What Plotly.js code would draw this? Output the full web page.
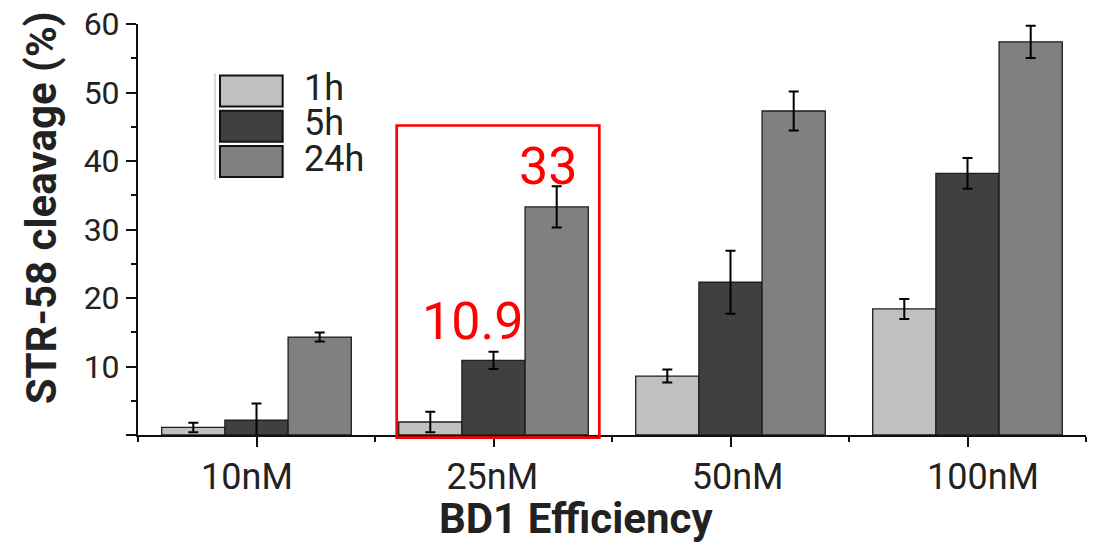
<!DOCTYPE html>
<html>
<head>
<meta charset="utf-8">
<script src="https://cdn.plot.ly/plotly-3.0.1.min.js"></script>
<style>
  html, body { margin: 0; padding: 0; background: #fff; }
  #chart { width: 1104px; height: 543px; }
</style>
</head>
<body>
<div id="chart"></div>
<script>
// ---- data ----
const categories = ['10nM', '25nM', '50nM', '100nM'];
const seriesNames = ['1h', '5h', '24h'];
const values1h = [1.1, 1.9, 8.6, 18.4];
const errors1h = [0.7, 1.5, 0.95, 1.45];
const values5h = [2.15, 10.9, 22.3, 38.2];
const errors5h = [2.45, 1.25, 4.6, 2.25];
const values24h = [14.3, 33.3, 47.3, 57.4];
const errors24h = [0.65, 3.0, 2.85, 2.35];
const seriesColors = ['#c0c0c0', '#404040', '#808080'];
const yTickVals = [0, 10, 20, 30, 40, 50, 60];
const yTickText = ['', '10', '20', '30', '40', '50', '60'];
const highlightLabels = ['10.9', '33'];

const xPos = categories.map((c, i) => i);
const allValues = [values1h, values5h, values24h];
const allErrors = [errors1h, errors5h, errors24h];

const FONT = 'Roboto, "Noto Sans", sans-serif';
const INK = '#222222';

const traces = seriesNames.map((name, k) => ({
  type: 'bar',
  name: name,
  x: xPos,
  y: allValues[k],
  marker: { color: seriesColors[k], line: { color: '#1e1e1e', width: 1.3 } },
  error_y: { type: 'data', array: allErrors[k], visible: true, color: '#000', thickness: 2, width: 5 },
  showlegend: false,
  hoverinfo: 'skip'
}));

// invisible trace to activate the label axis
traces.push({
  type: 'scatter', x: xPos, y: [0, 0, 0, 0], xaxis: 'x2', yaxis: 'y',
  mode: 'markers', marker: { opacity: 0 }, showlegend: false, hoverinfo: 'skip'
});

// ---- manual legend ----
const legendRows = [[0.7994, 0.8749], [0.7134, 0.7889], [0.6275, 0.7030]];
const legendTextY = [0.8442, 0.7585, 0.6725];
const shapes = [];
legendRows.forEach((r, k) => {
  shapes.push({
    type: 'rect', xref: 'paper', yref: 'paper',
    x0: 0.0865, x1: 0.1526, y0: r[0], y1: r[1],
    fillcolor: seriesColors[k], line: { color: '#111', width: 2 }
  });
});
shapes.push({
  type: 'line', xref: 'paper', yref: 'paper',
  x0: 0.0812, x1: 0.0812, y0: 0.6209, y1: 0.8807,
  line: { color: '#cfcfcf', width: 1.5 }
});
// highlight box
shapes.push({
  type: 'rect', xref: 'paper', yref: 'paper',
  x0: 0.2729, x1: 0.4866, y0: -0.0066, y1: 0.7531,
  line: { color: '#ff0000', width: 2.7 }, fillcolor: 'rgba(0,0,0,0)'
});

const annotations = [];
seriesNames.forEach((name, k) => {
  annotations.push({
    xref: 'paper', yref: 'paper', x: 0.1727, y: legendTextY[k],
    xanchor: 'left', yanchor: 'middle', showarrow: false,
    text: name, font: { family: FONT, size: 36, color: INK }
  });
});
annotations.push({
  xref: 'paper', yref: 'paper', x: 0.3528, y: 0.2768, xanchor: 'center', yanchor: 'middle',
  showarrow: false, text: highlightLabels[0], font: { family: FONT, size: 52, color: '#ff0000' }
});
annotations.push({
  xref: 'paper', yref: 'paper', x: 0.432, y: 0.6533, xanchor: 'center', yanchor: 'middle',
  showarrow: false, text: highlightLabels[1], font: { family: FONT, size: 52, color: '#ff0000' }
});
// axis titles
annotations.push({
  xref: 'paper', yref: 'paper', x: 0.462, y: -0.2021, xanchor: 'center', yanchor: 'middle',
  showarrow: false, text: '<b>BD1 Efficiency</b>', font: { family: FONT, size: 42, color: INK }
});
annotations.push({
  xref: 'paper', yref: 'paper', x: -0.1023, y: 0.5515, xanchor: 'center', yanchor: 'middle',
  textangle: -90, showarrow: false, text: '<b>STR-58 cleavage (%)</b>',
  font: { family: FONT, size: 42, color: INK }
});

const layout = {
  width: 1104, height: 543,
  margin: { l: 138, r: 18, t: 24, b: 108, pad: 0 },
  paper_bgcolor: '#ffffff', plot_bgcolor: '#ffffff',
  font: { family: FONT, color: INK },
  barmode: 'group', bargap: 0.2, bargroupgap: 0,
  xaxis: {
    range: [-0.5, 3.5], tickmode: 'array', tickvals: xPos, showticklabels: false,
    ticks: 'outside', ticklen: 10, tickwidth: 2, tickcolor: '#111',
    showline: true, linecolor: '#111', linewidth: 2, showgrid: false, zeroline: false,
    minor: { tick0: 0.5, dtick: 1, ticks: 'outside', ticklen: 5, tickwidth: 2, tickcolor: '#111', showgrid: false },
    fixedrange: true
  },
  xaxis2: {
    overlaying: 'x', anchor: 'y', side: 'bottom',
    range: [-0.444, 3.42], tickmode: 'array', tickvals: xPos, ticktext: categories,
    ticks: 'outside', ticklen: 10, tickcolor: 'rgba(0,0,0,0)',
    showline: false, showgrid: false, zeroline: false,
    tickfont: { family: FONT, size: 36, color: INK }, fixedrange: true
  },
  yaxis: {
    range: [0, 60], tickmode: 'array', tickvals: yTickVals, ticktext: yTickText,
    ticks: 'outside', ticklen: 10, tickwidth: 2, tickcolor: '#111',
    showline: true, linecolor: '#111', linewidth: 2, showgrid: false, zeroline: false,
    minor: { tick0: 5, dtick: 10, ticks: 'outside', ticklen: 5, tickwidth: 2, tickcolor: '#111', showgrid: false },
    tickfont: { family: FONT, size: 32, color: INK }, fixedrange: true
  },
  shapes: shapes,
  annotations: annotations
};

Plotly.newPlot('chart', traces, layout, { displayModeBar: false, staticPlot: true });
</script>
</body>
</html>
